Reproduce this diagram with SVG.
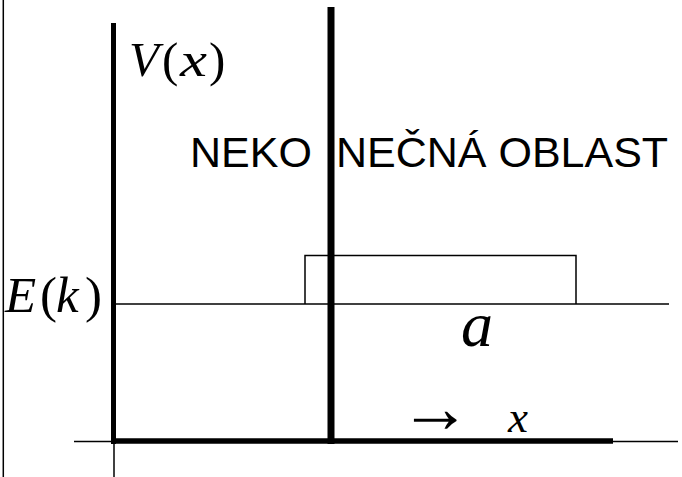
<svg xmlns="http://www.w3.org/2000/svg" width="682" height="477" viewBox="0 0 682 477">
<style>
.thin{stroke:#000;stroke-width:1.5;fill:none}
.thick{stroke:#000;fill:none}
.m{font-family:"Liberation Serif","Times New Roman",serif;fill:#000}
.i{font-style:italic}
.s{font-family:"Liberation Sans",Arial,sans-serif;fill:#000}
</style>
<rect width="682" height="477" fill="#fff"/>
<g id="connectors">
<line class="thin" x1="3.3" y1="0" x2="3.3" y2="477" stroke-width="2"/>
<line class="thick" x1="113.5" y1="23" x2="113.5" y2="444" stroke-width="5"/>
<line class="thick" x1="331" y1="7" x2="331" y2="444" stroke-width="7"/>
<line class="thick" x1="111" y1="441" x2="613" y2="441" stroke-width="5.5"/>
<line class="thin" x1="74" y1="441.5" x2="113" y2="441.5"/>
<line class="thin" x1="613" y1="441.5" x2="678" y2="441.5"/>
<line class="thin" x1="114" y1="441" x2="114" y2="477"/>
<line class="thin" x1="116" y1="304" x2="669" y2="304" stroke-width="2"/>
<path class="thin" d="M305,304 V255.5 H576 V304" stroke-width="1.2"/>
</g>
<g id="label-V">
<text class="m i" x="129" y="76" font-size="49">V</text>
<text class="m" x="162" y="76" font-size="49">(</text>
<text class="m i" x="180" y="76" font-size="49" textLength="27" lengthAdjust="spacingAndGlyphs">x</text>
<text class="m" x="209" y="76" font-size="49">)</text>
</g>
<g id="label-E">
<text class="m i" x="5" y="312" font-size="51">E</text>
<text class="m" x="40" y="312" font-size="51">(</text>
<text class="m i" x="56" y="312" font-size="51">k</text>
<text class="m" x="85" y="312" font-size="51">)</text>
</g>
<g id="label-neko">
<text class="s" x="190" y="167" font-size="43">NEKO</text>
</g>
<g id="label-necna">
<text class="s" x="336" y="167" font-size="43">NEČNÁ OBLAST</text>
</g>
<g id="label-a">
<text class="m i" x="461" y="346" font-size="64">a</text>
</g>
<g id="label-x-axis">
<text class="m" x="399" y="432" font-size="72">→</text>
<text class="m i" x="508" y="432" font-size="45">x</text>
</g>
</svg>
